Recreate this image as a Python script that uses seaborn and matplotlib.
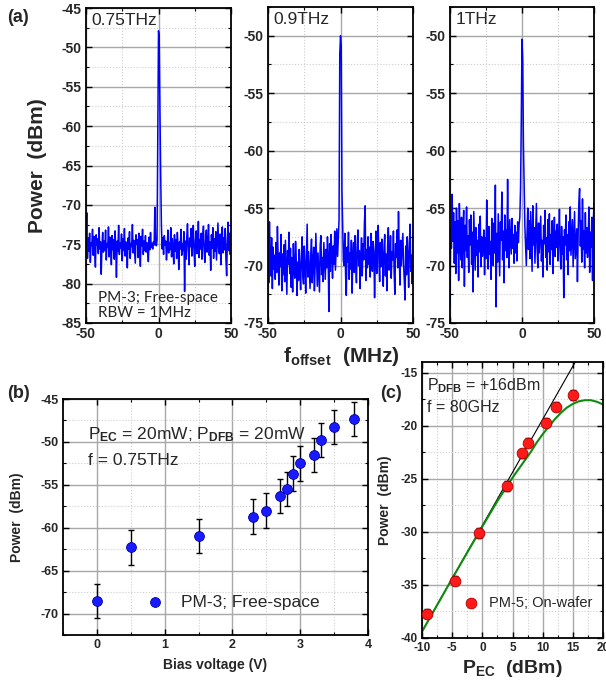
"""
Spectra (a), bias sweep (b) and input power sweep (c)
"""

import numpy as np
import pandas as pd
import matplotlib
matplotlib.use("Agg")
import matplotlib.pyplot as plt
from matplotlib.ticker import MultipleLocator
import seaborn as sns

# ---- data ----
# (a) spectra, 0.5 MHz steps from -50 to +50 MHz
p_075 = [
    -75.5, -71.0, -76.8, -74.2, -75.9, -73.6, -77.3, -74.8, -75.2, -73.1,
    -76.4, -74.0, -75.7, -77.9, -73.8, -75.1, -74.3, -76.2, -72.9, -75.6,
    -74.7, -78.8, -75.3, -73.5, -76.0, -74.6, -75.8, -73.2, -77.0, -74.9,
    -75.4, -72.8, -76.6, -74.1, -75.0, -77.6, -73.9, -75.7, -74.4, -76.9,
    -73.3, -75.2, -79.2, -74.6, -75.9, -72.6, -76.3, -74.8, -75.5, -73.7,
    -77.1, -74.3, -75.8, -73.0, -76.5, -74.7, -75.1, -78.0, -74.2, -75.6,
    -73.4, -76.8, -74.9, -75.3, -72.5, -76.1, -74.5, -75.9, -77.4, -73.8,
    -75.0, -74.4, -76.7, -73.6, -75.5, -77.8, -74.0, -75.2, -73.1, -76.3,
    -74.6, -75.8, -73.9, -76.0, -74.8, -75.3, -77.2, -74.1, -75.7, -73.5,
    -75.4, -74.9, -75.6, -74.7, -75.1, -70.3, -74.8, -75.2, -74.5, -62.0,
    -47.9, -48.5, -58.0, -66.0, -72.5, -75.6, -74.2, -76.3, -73.9, -75.1,
    -74.6, -77.0, -75.4, -73.2, -76.1, -74.8, -75.7, -72.9, -76.6, -74.3,
    -75.2, -77.5, -73.8, -75.9, -74.4, -76.8, -73.5, -75.3, -78.2, -74.7,
    -75.6, -73.1, -76.4, -74.9, -75.8, -73.4, -81.0, -74.6, -76.9, -74.1,
    -72.4, -75.7, -77.6, -74.2, -75.3, -73.0, -76.5, -74.8, -72.6, -75.9,
    -77.8, -74.5, -73.3, -76.2, -75.0, -72.1, -76.7, -74.4, -75.6, -73.6,
    -76.9, -74.0, -72.7, -75.8, -77.3, -74.6, -73.2, -76.0, -75.1, -72.5,
    -76.4, -74.7, -78.3, -73.8, -75.5, -72.9, -76.8, -74.3, -75.9, -73.4,
    -77.0, -74.8, -72.3, -75.6, -76.2, -73.7, -77.6, -74.5, -72.8, -76.1,
    -74.2, -75.7, -73.0, -76.9, -79.0, -74.4, -72.2, -75.8, -73.6, -76.3,
    -74.8,
]
p_09 = [
    -67.0, -71.5, -66.2, -69.8, -70.9, -67.6, -72.0, -68.4, -70.3, -69.1,
    -71.2, -68.0, -70.6, -66.6, -69.4, -71.7, -68.9, -70.1, -67.3, -72.2,
    -69.0, -70.8, -68.2, -71.4, -67.8, -70.2, -72.5, -68.7, -69.9, -67.1,
    -70.7, -68.5, -71.9, -69.3, -72.3, -68.1, -70.4, -71.1, -67.9, -69.6,
    -72.6, -69.7, -71.3, -68.6, -70.5, -72.1, -69.2, -67.5, -70.9, -71.6,
    -68.3, -70.0, -72.4, -69.5, -66.4, -71.0, -68.8, -70.3, -72.0, -69.1,
    -67.7, -71.5, -69.8, -68.4, -72.2, -70.1, -67.2, -69.6, -71.8, -68.9,
    -70.6, -72.3, -68.2, -67.4, -70.8, -69.3, -71.4, -68.0, -69.7, -71.2,
    -68.6, -70.2, -67.5, -69.4, -74.0, -68.1, -70.5, -67.3, -69.0, -71.1,
    -68.3, -69.9, -67.0, -70.4, -68.5, -66.8, -69.2, -67.6, -66.0, -51.6,
    -50.0, -50.8, -63.5, -66.8, -69.6, -70.0, -67.2, -70.8, -72.6, -68.4,
    -69.7, -67.1, -71.2, -68.9, -70.3, -67.8, -72.4, -69.1, -68.0, -70.6,
    -67.4, -69.8, -71.5, -68.2, -66.9, -70.0, -68.7, -72.0, -69.3, -67.6,
    -70.9, -68.1, -69.5, -66.3, -64.8, -71.3, -68.6, -70.2, -67.5, -69.9,
    -68.4, -71.0, -67.2, -69.7, -70.5, -67.9, -68.8, -72.8, -69.4, -67.0,
    -70.7, -68.3, -66.5, -69.6, -71.4, -68.0, -70.1, -67.7, -69.2, -71.8,
    -68.5, -67.3, -70.9, -69.0, -72.2, -68.2, -66.7, -70.4, -69.8, -67.4,
    -71.1, -68.8, -69.5, -67.0, -70.6, -72.5, -68.1, -69.3, -66.9, -70.2,
    -65.3, -69.0, -71.7, -67.8, -70.0, -68.6, -67.2, -69.9, -71.3, -73.0,
    -68.3, -70.8, -67.5, -69.4, -71.9, -68.0, -66.4, -70.5, -69.1, -71.6,
    -67.2,
]
p_1 = [
    -73.6, -66.8, -68.5, -63.8, -67.9, -65.4, -69.8, -66.2, -70.7, -65.0,
    -68.9, -66.1, -71.3, -64.6, -67.7, -69.5, -65.8, -70.2, -67.0, -65.2,
    -71.8, -66.5, -68.7, -64.9, -69.3, -67.4, -70.6, -66.0, -68.2, -65.6,
    -69.9, -67.1, -72.3, -65.3, -68.0, -70.4, -66.7, -69.1, -67.8, -71.0,
    -66.4, -68.8, -65.7, -70.1, -67.5, -69.2, -68.3, -66.9, -70.8, -67.6,
    -69.4, -64.3, -68.6, -70.3, -66.6, -69.0, -67.9, -71.2, -65.9, -68.4,
    -70.0, -66.3, -68.9, -63.0, -73.6, -67.2, -69.7, -65.5, -68.1, -70.9,
    -66.2, -67.8, -63.6, -69.5, -67.0, -71.5, -65.6, -68.7, -66.9, -69.3,
    -62.5, -68.2, -70.2, -66.0, -67.6, -69.0, -65.9, -68.5, -67.3, -69.8,
    -66.5, -68.9, -67.1, -69.6, -66.2, -68.0, -66.4, -65.8, -63.2, -57.5,
    -50.3, -52.0, -59.5, -62.8, -66.6, -68.4, -70.0, -67.2, -65.0, -68.6,
    -66.1, -69.4, -65.3, -67.9, -70.5, -64.8, -68.2, -66.7, -69.8, -67.0,
    -64.6, -68.5, -70.2, -66.3, -68.9, -67.4, -65.7, -69.6, -67.8, -71.0,
    -66.5, -68.1, -65.2, -69.3, -67.6, -70.4, -66.0, -68.8, -65.5, -69.9,
    -67.3, -68.6, -66.1, -70.7, -67.9, -65.8, -69.2, -67.0, -68.4, -66.4,
    -69.6, -67.7, -65.1, -68.8, -70.3, -66.6, -69.0, -67.5, -72.8, -66.9,
    -68.2, -65.6, -69.5, -67.3, -70.8, -66.2, -68.7, -64.9, -69.1, -67.6,
    -66.0, -70.1, -67.8, -65.3, -69.4, -68.1, -66.8, -71.4, -67.2, -64.5,
    -63.3, -68.3, -66.1, -69.7, -64.2, -68.6, -67.0, -70.2, -65.4, -68.9,
    -66.7, -69.3, -67.5, -64.9, -70.6, -67.1, -68.4, -65.8, -71.3, -66.2,
    -64.6,
]
spec_labels = ["0.75THz", "0.9THz", "1THz"]

# (b) power vs bias voltage
bias_v = [0, 0.5, 1.5, 2.3, 2.5, 2.7, 2.8, 2.9, 3.0, 3.2, 3.3, 3.5, 3.8]
bias_p = [-68.5, -62.3, -61.0, -58.7, -58.0, -56.3, -55.5, -53.7, -52.5,
          -51.5, -49.8, -48.3, -47.3]
bias_err = [2.0] * len(bias_v)

# (c) power vs P_EC
pec = [-9.2, -4.5, -0.5, 4.1, 6.6, 7.6, 10.6, 12.2, 15.1]
pec_p = [-37.7, -34.6, -30.1, -25.7, -22.6, -21.6, -19.7, -18.2, -17.1]
pec_err = [0.45] * len(pec)
lin_x = [-10, 16]
lin_y = [-39.4, -13.4]
sat_x = [-10, -5, 0, 2.5, 5, 6, 7, 8, 9, 10, 11, 12, 13, 14, 15, 16, 17, 18, 19, 20]
sat_y = [-39.4, -34.4, -29.5, -27.1, -24.9, -24.1, -23.3, -22.5, -21.6, -20.8,
         -20.1, -19.4, -18.8, -18.3, -17.95, -17.7, -17.6, -17.6, -17.75, -18.0]

# ---- style ----
sns.set_style("ticks")
plt.rcParams["font.family"] = ["Liberation Sans", "DejaVu Sans"]
plt.rcParams["font.weight"] = "bold"          # tick labels are bold in the original
plt.rcParams["axes.unicode_minus"] = False
plt.rcParams["mathtext.fontset"] = "custom"
plt.rcParams["mathtext.rm"] = "Liberation Sans"
plt.rcParams["mathtext.bf"] = "Liberation Sans:bold"
plt.rcParams["mathtext.it"] = "Liberation Sans:italic"

W, H = 606, 681
fig = plt.figure(figsize=(W / 100, H / 100), dpi=100)


def px_axes(left, top, right, bottom):
    return fig.add_axes([left / W, 1 - bottom / H, (right - left) / W, (bottom - top) / H])


def style(ax, xmaj, xmin, ymaj, ymin, size):
    ax.xaxis.set_major_locator(MultipleLocator(xmaj))
    ax.xaxis.set_minor_locator(MultipleLocator(xmin))
    ax.yaxis.set_major_locator(MultipleLocator(ymaj))
    ax.yaxis.set_minor_locator(MultipleLocator(ymin))
    ax.set_axisbelow(True)
    ax.grid(which="major", color="#a8a8a8", lw=1.0, ls="-")
    ax.grid(which="minor", color="#cccccc", lw=0.8, ls=":")
    ax.tick_params(which="both", direction="in", top=True, right=True, color="black",
                   pad=3, labelsize=size)
    ax.tick_params(which="major", length=4, width=1)
    ax.tick_params(which="minor", length=2, width=0.8)
    for s in ax.spines.values():
        s.set_linewidth(1.3)
        s.set_color("black")


# ---- (a) spectra ----
spec_boxes = [(86, 8, 231, 323), (268, 7, 413, 323), (450, 7, 594, 323)]
spec_ylims = [(-85, -45), (-75, -47.5), (-75, -47.5)]
for trace, lab, box, ylim in zip([p_075, p_09, p_1], spec_labels, spec_boxes, spec_ylims):
    ax = px_axes(*box)
    f_off = np.linspace(-50, 50, len(trace))
    df = pd.DataFrame({"f": f_off, "p": trace})
    sns.lineplot(data=df, x="f", y="p", ax=ax, color="#0000ff", lw=1.1,
                 estimator=None, sort=False)
    ax.set_xlim(-50, 50)
    ax.set_ylim(*ylim)
    ax.set_xlabel("")
    ax.set_ylabel("")
    style(ax, 50, 25, 5, 2.5, 10)
    ax.text(0.04, 0.985, lab, transform=ax.transAxes, ha="left", va="top",
            fontsize=12.5, fontweight="normal")
    if lab == "0.75THz":
        ax.set_ylabel("Power  (dBm)", fontsize=15, fontweight="bold")
        ax.yaxis.set_label_coords(-0.27, 0.5)
        ax.text(0.08, 0.008, "PM-3; Free-space\nRBW = 1MHz", transform=ax.transAxes,
                ha="left", va="bottom", fontsize=11, fontweight="normal",
                family=["Lato", "DejaVu Sans"], linespacing=1.1)

fig.text(341 / W, 1 - 357 / H, r"f$_{\mathbf{offset}}$  (MHz)", ha="center", va="center",
         fontsize=15, fontweight="bold")
fig.text(7 / W, 1 - 17 / H, "(a)", ha="left", va="center", fontsize=13, fontweight="bold")

# ---- (b) bias sweep ----
axb = px_axes(63, 399, 368, 635)
axb.errorbar(bias_v, bias_p, yerr=bias_err, fmt="none", ecolor="black", elinewidth=1,
             capsize=2.5, capthick=1, zorder=2)
sns.scatterplot(x=bias_v, y=bias_p, ax=axb, color="#1a1aff", edgecolor="#0000a0",
                linewidth=0.6, s=50, zorder=3, label="PM-3; Free-space")
axb.set_xlim(-0.5, 4)
axb.set_ylim(-72.5, -45)
style(axb, 1, 0.5, 5, 2.5, 9)
axb.set_xlabel("Bias voltage (V)", fontsize=10, fontweight="bold", labelpad=5)
axb.set_ylabel("Power  (dBm)", fontsize=10, fontweight="bold")
axb.yaxis.set_label_coords(-0.128, 0.5)
axb.text(0.082, 0.85, r"P$_{\mathbf{EC}}$ = 20mW; P$_{\mathbf{DFB}}$ = 20mW",
         transform=axb.transAxes, ha="left", va="center", fontsize=12.5, fontweight="normal")
axb.text(0.082, 0.74, "f = 0.75THz", transform=axb.transAxes, ha="left", va="center",
         fontsize=12.5, fontweight="normal")
axb.legend(loc="center left", bbox_to_anchor=(0.25, 0.14), frameon=False,
           prop={"size": 12.5, "weight": "normal"},
           handlelength=1, handletextpad=1.0, borderaxespad=0)
fig.text(7 / W, 1 - 393 / H, "(b)", ha="left", va="center", fontsize=13, fontweight="bold")

# ---- (c) P_EC sweep ----
axc = px_axes(422, 362, 603, 638)
sns.lineplot(x=lin_x, y=lin_y, ax=axc, color="black", lw=0.8, zorder=2)
sns.lineplot(x=sat_x, y=sat_y, ax=axc, color="#118a11", lw=1.5, zorder=2)
axc.errorbar(pec, pec_p, yerr=pec_err, fmt="none", ecolor="black", elinewidth=1,
             capsize=2, capthick=1, zorder=3)
sns.scatterplot(x=pec, y=pec_p, ax=axc, color="#ff1a1a", edgecolor="#b00000",
                linewidth=0.6, s=60, zorder=4, label="PM-5; On-wafer")
axc.set_xlim(-10, 20)
axc.set_ylim(-40, -14)
style(axc, 5, 2.5, 5, 2.5, 8.5)
axc.set_xlabel(r"P$_{\mathbf{EC}}$  (dBm)", fontsize=14, fontweight="bold", labelpad=3)
axc.set_ylabel("Power  (dBm)", fontsize=10, fontweight="bold")
axc.yaxis.set_label_coords(-0.166, 0.5)
axc.text(0.03, 0.915, r"P$_{\mathbf{DFB}}$ = +16dBm", transform=axc.transAxes,
         ha="left", va="center", fontsize=11.5, fontweight="normal")
axc.text(0.03, 0.835, "f = 80GHz", transform=axc.transAxes, ha="left", va="center",
         fontsize=11.5, fontweight="normal")
axc.legend(loc="center left", bbox_to_anchor=(0.2, 0.127), frameon=False,
           prop={"size": 10.5, "weight": "normal"},
           handlelength=1, handletextpad=0.7, borderaxespad=0)
fig.text(380 / W, 1 - 393 / H, "(c)", ha="left", va="center", fontsize=13, fontweight="bold")

fig.savefig("out.png", dpi=100)
